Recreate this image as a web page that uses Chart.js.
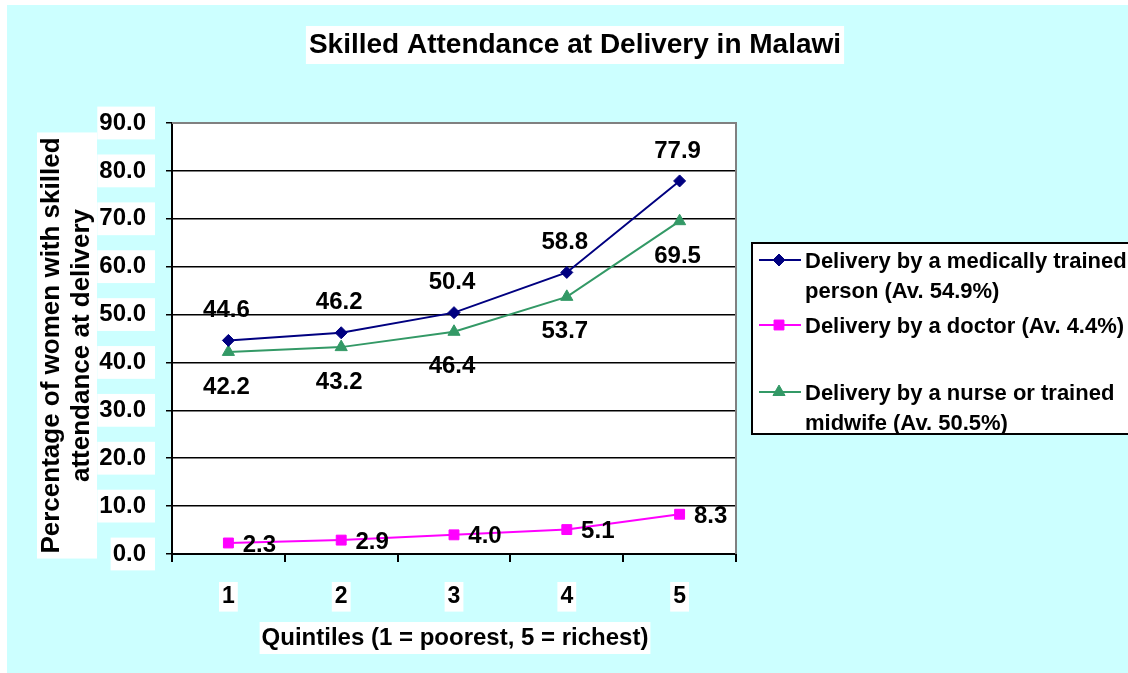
<!DOCTYPE html>
<html>
<head>
<meta charset="utf-8">
<script src="https://cdn.jsdelivr.net/npm/chart.js@4.4.1/dist/chart.umd.min.js"></script>
<style>
  html, body { margin: 0; padding: 0; background: #ffffff; }
  #wrap { position: absolute; left: 0; top: 0; width: 1128px; height: 673px; }
</style>
</head>
<body>
<div id="wrap"><canvas id="c" width="1128" height="673"></canvas></div>
<script>
const categories = ['1', '2', '3', '4', '5'];
const medicalValues = [44.6, 46.2, 50.4, 58.8, 77.9];
const doctorValues = [2.3, 2.9, 4.0, 5.1, 8.3];
const nurseValues = [42.2, 43.2, 46.4, 53.7, 69.5];
const yTickMin = 0, yTickMax = 90, yTickStep = 10;
const chartTitle = 'Skilled Attendance at Delivery in Malawi';
const yAxisTitle = ['Percentage of women with skilled', 'attendance at delivery'];
const xAxisTitle = 'Quintiles (1 = poorest, 5 = richest)';
const seriesLabels = [
  ['Delivery by a medically trained', 'person (Av. 54.9%)'],
  ['Delivery by a doctor (Av. 4.4%)'],
  ['Delivery by a nurse or trained', 'midwife (Av. 50.5%)']
];

const FONT = '"Liberation Sans", Arial, sans-serif';
const BG = '#CCFFFF';

const labelOffsets = [
  { dx: -2, dy: -30 },
  { dx: 31, dy: 2 },
  { dx: -2, dy: 35 }
];

function whiteBoxText(ctx, lines, cx, cy, lineH, padX, padY, rotate) {
  ctx.save();
  ctx.translate(cx, cy);
  if (rotate) ctx.rotate(-Math.PI / 2);
  let maxW = 0;
  lines.forEach(l => { maxW = Math.max(maxW, ctx.measureText(l).width); });
  const h = lines.length * lineH;
  ctx.fillStyle = '#ffffff';
  ctx.fillRect(-maxW / 2 - padX, -h / 2 - padY, maxW + 2 * padX, h + 2 * padY);
  ctx.fillStyle = '#000000';
  ctx.textAlign = 'center';
  ctx.textBaseline = 'middle';
  lines.forEach((l, i) => {
    ctx.fillText(l, 0, -h / 2 + lineH * (i + 0.5));
  });
  ctx.restore();
}

function drawMarker(ctx, ds, x, y) {
  ctx.save();
  ctx.fillStyle = ds.pointBackgroundColor;
  ctx.strokeStyle = ds.pointBorderColor;
  ctx.lineWidth = ds.pointBorderWidth;
  Chart.helpers.drawPoint(ctx, { pointStyle: ds.pointStyle, radius: ds.pointRadius, borderWidth: ds.pointBorderWidth }, x, y);
  ctx.restore();
}

const decorPlugin = {
  id: 'decor',
  beforeDraw(chart) {
    const ctx = chart.ctx;
    ctx.save();
    ctx.fillStyle = '#ffffff';
    ctx.fillRect(0, 0, chart.width, chart.height);
    ctx.fillStyle = BG;
    ctx.fillRect(7, 5, chart.width - 7, chart.height - 5);
    const a = chart.chartArea;
    ctx.fillStyle = '#ffffff';
    ctx.fillRect(a.left, a.top, a.right - a.left, a.bottom - a.top);
    ctx.restore();
  },
  afterDraw(chart) {
    const ctx = chart.ctx;
    const a = chart.chartArea;
    ctx.save();
    ctx.strokeStyle = '#808080';
    ctx.lineWidth = 2;
    ctx.beginPath();
    ctx.moveTo(a.left, a.top);
    ctx.lineTo(a.right, a.top);
    ctx.lineTo(a.right, a.bottom);
    ctx.stroke();

    ctx.font = 'bold 28px ' + FONT;
    whiteBoxText(ctx, [chartTitle], 575, 45, 32, 3, 3, false);

    ctx.font = 'bold 26px ' + FONT;
    whiteBoxText(ctx, yAxisTitle, 67, (a.top + a.bottom) / 2 + 7, 30, 5, 0, true);

    ctx.font = 'bold 24px ' + FONT;
    whiteBoxText(ctx, [xAxisTitle], 455, 638, 30, 2, 1, false);

    ctx.font = 'bold 24px ' + FONT;
    ctx.fillStyle = '#000000';
    ctx.textAlign = 'center';
    ctx.textBaseline = 'middle';
    chart.data.datasets.forEach((ds, di) => {
      const meta = chart.getDatasetMeta(di);
      meta.data.forEach((pt, i) => {
        const off = labelOffsets[di];
        ctx.fillText(ds.data[i].toFixed(1), pt.x + off.dx, pt.y + off.dy);
      });
    });

    const lx = 752, ly = 243, lw = 390, lh = 191;
    ctx.fillStyle = '#ffffff';
    ctx.fillRect(lx, ly, lw, lh);
    ctx.strokeStyle = '#000000';
    ctx.lineWidth = 2;
    ctx.strokeRect(lx, ly, lw, lh);
    const rows = [260, 325, 392];
    ctx.font = 'bold 22px ' + FONT;
    ctx.textAlign = 'left';
    ctx.textBaseline = 'middle';
    chart.data.datasets.forEach((ds, di) => {
      const y = rows[di];
      ctx.strokeStyle = ds.borderColor;
      ctx.lineWidth = 2;
      ctx.beginPath();
      ctx.moveTo(759, y);
      ctx.lineTo(801, y);
      ctx.stroke();
      drawMarker(ctx, ds, 779, y);
      ctx.fillStyle = '#000000';
      seriesLabels[di].forEach((t, k) => {
        ctx.fillText(t, 805, y + 2 + k * 30);
      });
    });
    ctx.restore();
  }
};

const chart = new Chart(document.getElementById('c'), {
  type: 'line',
  data: {
    labels: categories,
    datasets: [
      {
        label: seriesLabels[0].join(' '),
        data: medicalValues,
        borderColor: '#000080',
        backgroundColor: '#000080',
        pointBackgroundColor: '#000080',
        pointBorderColor: '#000080',
        pointStyle: 'rectRot',
        pointRadius: 6,
        pointBorderWidth: 1,
        borderWidth: 2,
        tension: 0
      },
      {
        label: seriesLabels[1].join(' '),
        data: doctorValues,
        borderColor: '#FF00FF',
        backgroundColor: '#FF00FF',
        pointBackgroundColor: '#FF00FF',
        pointBorderColor: '#FF00FF',
        pointStyle: 'rect',
        pointRadius: 7,
        pointBorderWidth: 1,
        borderWidth: 2,
        tension: 0
      },
      {
        label: seriesLabels[2].join(' '),
        data: nurseValues,
        borderColor: '#339966',
        backgroundColor: '#339966',
        pointBackgroundColor: '#339966',
        pointBorderColor: '#339966',
        pointStyle: 'triangle',
        pointRadius: 7,
        pointBorderWidth: 1,
        borderWidth: 2,
        tension: 0
      }
    ]
  },
  options: {
    responsive: false,
    animation: false,
    devicePixelRatio: 1,
    layout: { padding: { left: 0, top: 123, right: 392, bottom: 0 } },
    plugins: {
      legend: { display: false },
      title: { display: false },
      tooltip: { enabled: false }
    },
    scales: {
      x: {
        offset: true,
        grid: {
          offset: true,
          drawOnChartArea: false,
          drawTicks: true,
          tickLength: 8,
          color: '#000000',
          lineWidth: 2
        },
        border: { display: true, color: '#000000', width: 2 },
        ticks: {
          color: '#000000',
          font: { family: FONT, size: 23, weight: 'bold' },
          padding: 21,
          showLabelBackdrop: true,
          backdropColor: '#ffffff',
          backdropPadding: { left: 3, right: 3, top: 1, bottom: 1 },
          maxRotation: 0
        },
        afterFit(scale) { scale.height = 119; }
      },
      y: {
        min: yTickMin,
        max: yTickMax,
        grid: {
          color: '#000000',
          lineWidth: 1.5,
          drawTicks: true,
          tickLength: 6
        },
        border: { display: true, color: '#000000', width: 2 },
        ticks: {
          stepSize: yTickStep,
          color: '#000000',
          font: { family: FONT, size: 24, weight: 'bold' },
          padding: 20,
          showLabelBackdrop: true,
          backdropColor: '#ffffff',
          backdropPadding: { left: 2, right: 9, top: 2, bottom: 2 },
          callback: v => Number(v).toFixed(1)
        },
        afterFit(scale) { scale.width = 172; }
      }
    }
  },
  plugins: [decorPlugin]
});
</script>
</body>
</html>
